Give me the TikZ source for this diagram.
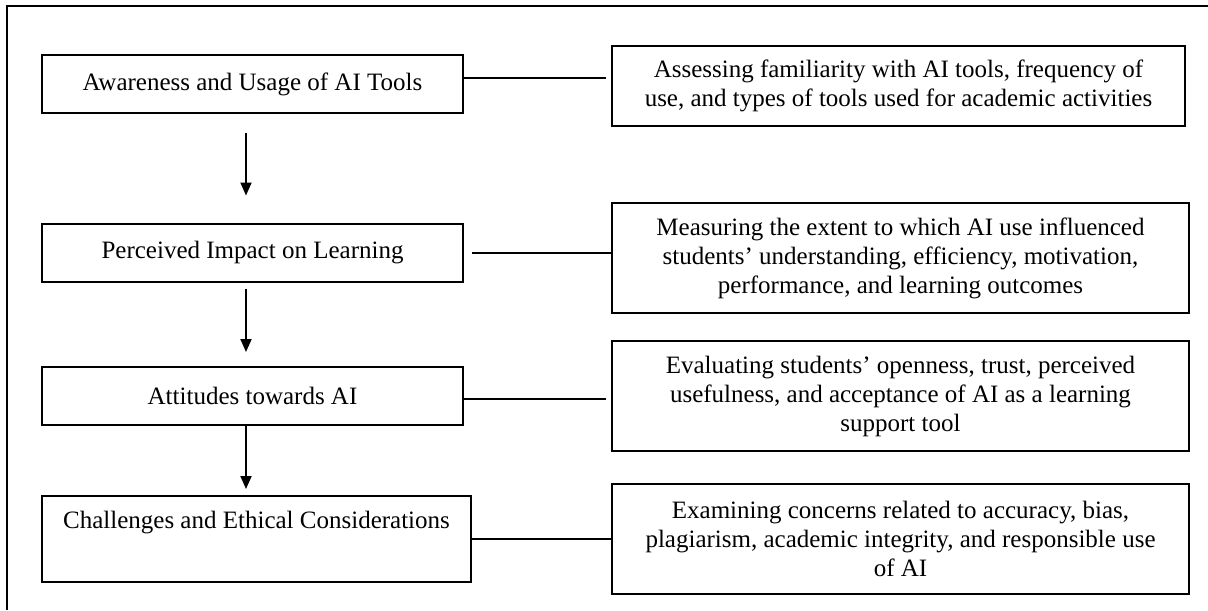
\documentclass[tikz,border=0pt]{standalone}
\usepackage{fontspec}
\setmainfont{Liberation Serif}
\usetikzlibrary{positioning,calc,arrows.meta}

\tikzset{
  stage/.style={draw,line width=1pt,inner sep=0pt,align=center,
    minimum width=210.5pt,minimum height=29pt},
  detail/.style={draw,line width=1pt,inner sep=0pt,align=center,
    minimum width=288.5pt,minimum height=55pt},
  flow/.style={line width=0.9pt,-{Triangle[length=6.5pt,width=5.5pt]}},
  link/.style={line width=1pt}
}

\begin{document}
\begin{tikzpicture}[x=0.5pt,y=-0.5pt,font=\fontsize{12.5}{14.5}\selectfont]
\useasboundingbox (0,0) rectangle (1208,610);
% frame
\draw[line width=1pt] (7,610)--(7,6)--(1208,6);

% stages on the left
\node[stage] (aware) at (252.5,84) {Awareness and Usage of AI Tools};
\node[stage] (impact) at (252.5,252.5) {Perceived Impact on Learning};
\node[stage] (attit) at (252.5,396) {Attitudes towards AI};
\node[stage,minimum width=214.5pt,minimum height=43pt] (ethics) at (256.5,539)
  {Challenges and Ethical Considerations\\ \strut};

% what each stage looks at
\node[detail,minimum width=286.5pt,minimum height=40pt] (awareD) at (898.5,86)
  {Assessing familiarity with AI tools, frequency of\\
   use, and types of tools used for academic activities};
\node[detail] (impactD) at (900.5,258)
  {Measuring the extent to which AI use influenced\\
   students’ understanding, efficiency, motivation,\\
   performance, and learning outcomes};
\node[detail] (attitD) at (900.5,396)
  {Evaluating students’ openness, trust, perceived\\
   usefulness, and acceptance of AI as a learning\\
   support tool};
\node[detail] (ethicsD) at (900.5,538.5)
  {Examining concerns related to accuracy, bias,\\
   plagiarism, academic integrity, and responsible use\\
   of AI};

% downward flow
\draw[flow,shorten <=9.5pt,shorten >=13.5pt] ([xshift=-3.25pt]aware.south) -- ([xshift=-3.25pt]impact.north);
\draw[flow,shorten <=3pt,shorten >=7pt] ([xshift=-3.25pt]impact.south) -- ([xshift=-3.25pt]attit.north);
\draw[flow,shorten >=3pt] ([xshift=-3.25pt]attit.south) -- ([xshift=-3.25pt]attit.south |- ethics.north);

% side links
\draw[link,shorten >=2.5pt] ($(aware.east)+(0,3pt)$) -- ($(aware.east -| awareD.west)+(0,3pt)$);
\draw[link,shorten <=4pt,shorten >=-1pt] (impact.east) -- (impact.east -| impactD.west);
\draw[link,shorten >=2.5pt] ($(attit.east)+(0,-1.5pt)$) -- ($(attit.east -| attitD.west)+(0,-1.5pt)$);
\draw[link,shorten >=-1pt] (ethics.east) -- (ethics.east -| ethicsD.west);
\end{tikzpicture}
\end{document}
